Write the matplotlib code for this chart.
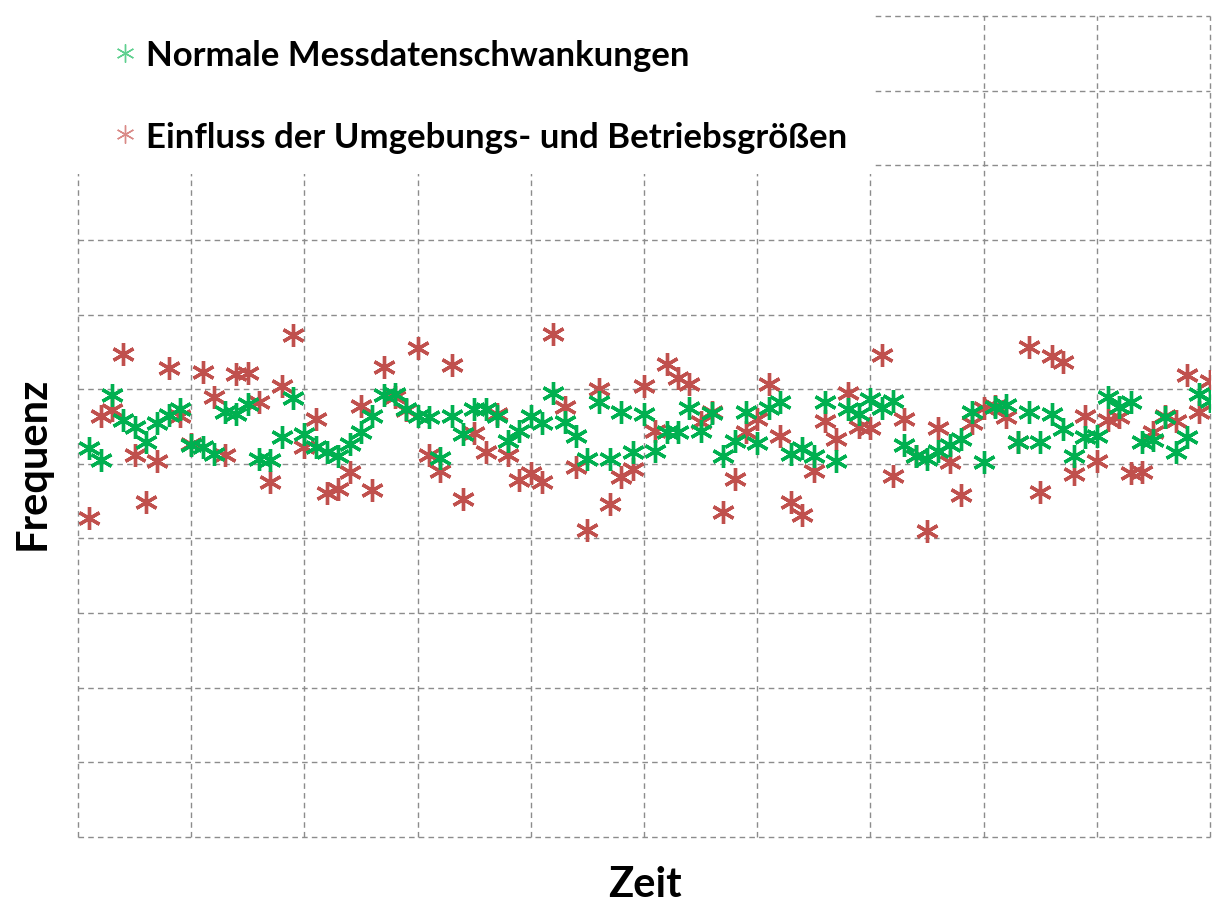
import numpy as np
import matplotlib
matplotlib.use("Agg")
import matplotlib.pyplot as plt
from matplotlib.patches import Rectangle
from matplotlib.lines import Line2D

# time index (one sample per step)
zeit = np.arange(1, 101)

# normal measurement fluctuations
normal = [52.1, 50.5, 59.2, 55.9, 54.9, 52.9, 55.5, 56.5, 57.3, 52.5,
          52.3, 51.3, 56.9, 56.7, 58.0, 50.6, 50.5, 53.6, 58.8, 54.0,
          52.3, 51.6, 51.0, 52.7, 54.3, 56.4, 59.2, 59.4, 57.3, 56.4,
          56.3, 50.8, 56.4, 54.0, 57.3, 57.3, 56.4, 53.1, 54.4, 56.4,
          55.5, 59.5, 55.6, 53.7, 50.6, 58.3, 50.6, 56.9, 51.6, 56.7,
          51.7, 54.3, 54.3, 57.5, 54.4, 56.8, 51.0, 53.1, 56.9, 52.8,
          57.5, 58.3, 51.3, 52.1, 51.0, 58.3, 50.4, 57.3, 56.7, 58.7,
          57.5, 58.4, 52.5, 51.0, 50.6, 51.7, 52.5, 53.3, 56.9, 50.2,
          57.6, 57.9, 52.9, 56.9, 52.9, 56.7, 54.7, 51.0, 53.6, 53.7,
          58.9, 57.6, 58.3, 52.9, 53.2, 56.3, 51.6, 53.6, 59.4, 58.4]

# influence of environment and operating conditions
einfluss = [42.7, 56.4, 57.2, 64.7, 51.2, 44.9, 50.4, 62.8, 56.4, 52.7,
            62.3, 58.9, 51.2, 62.0, 62.2, 58.3, 47.6, 60.4, 67.3, 52.3,
            56.0, 46.1, 46.6, 48.9, 57.7, 46.5, 63.0, 58.9, 57.2, 65.5,
            51.2, 49.0, 63.2, 45.3, 54.1, 51.6, 56.7, 51.2, 47.8, 48.8,
            47.6, 67.4, 57.6, 49.6, 41.1, 60.0, 44.6, 48.2, 49.3, 60.4,
            54.4, 63.4, 61.5, 60.7, 55.6, 56.9, 43.5, 48.0, 54.3, 56.0,
            60.7, 53.7, 44.9, 43.1, 49.0, 55.7, 53.3, 59.5, 54.9, 54.8,
            64.6, 48.4, 56.0, 51.0, 41.0, 54.8, 50.2, 45.8, 55.5, 57.5,
            57.7, 56.3, 52.9, 65.6, 46.2, 64.4, 63.6, 48.6, 56.4, 50.4,
            55.9, 56.3, 48.8, 48.9, 54.3, 56.4, 55.7, 61.9, 56.9, 61.1]

labels = ["Normale Messdatenschwankungen",
          "Einfluss der Umgebungs- und Betriebsgrößen"]

green = "#00B050"
red = "#C0504D"
star = (6, 2, 0)  # six-armed asterisk

fig = plt.figure(figsize=(12.12, 9.04), dpi=100)
ax = fig.add_axes([78/1212, 66/904, 1132/1212, 821/904])

ax.plot(zeit, einfluss, linestyle="none", marker=star, ms=16.5, mew=2.4,
        color=red, zorder=3)
ax.plot(zeit, normal, linestyle="none", marker=star, ms=16.5, mew=2.4,
        color=green, zorder=3)

ax.set_xlim(0, 100)
ax.set_ylim(0, 110)
ax.set_xticks(np.arange(0, 101, 10))
ax.set_yticks(np.arange(0, 111, 10))
ax.tick_params(length=0, labelbottom=False, labelleft=False)
for s in ax.spines.values():
    s.set_visible(False)
ax.grid(True, color="#8c8c8c", linestyle=(0, (4, 3)), linewidth=1.0)
ax.set_axisbelow(True)
for gl in ax.get_xgridlines() + ax.get_ygridlines():
    gl.set_clip_on(False)

# axis titles
fig.text(645/1212, 1 - 885/904, "Zeit", fontsize=30, fontweight="bold",
         family="Lato", ha="center", va="center")
fig.text(33/1212, 1 - 463/904, "Frequenz", fontsize=30, fontweight="bold",
         family="Lato", ha="center", va="center", rotation=90)

# white legend area on top of the grid
fig.patches.append(Rectangle((0, 1 - 175/904), 873/1212, 175/904,
                             transform=fig.transFigure, facecolor="white",
                             edgecolor="none", zorder=2))

handles = [Line2D([], [], linestyle="none", marker=star, ms=13, mew=1.0,
                  color="#5fd08f"),
           Line2D([], [], linestyle="none", marker=star, ms=13, mew=1.0,
                  color="#d98a87")]
leg = fig.legend(handles, labels, loc="upper left",
                 bbox_to_anchor=(0.0946, 0.9558), frameon=False,
                 borderaxespad=0, borderpad=0,
                 prop={"family": "Lato", "weight": "bold", "size": 25},
                 handlelength=0.6, handletextpad=0.3, labelspacing=1.43)
leg.set_zorder(5)

fig.savefig("out.png", dpi=100)
